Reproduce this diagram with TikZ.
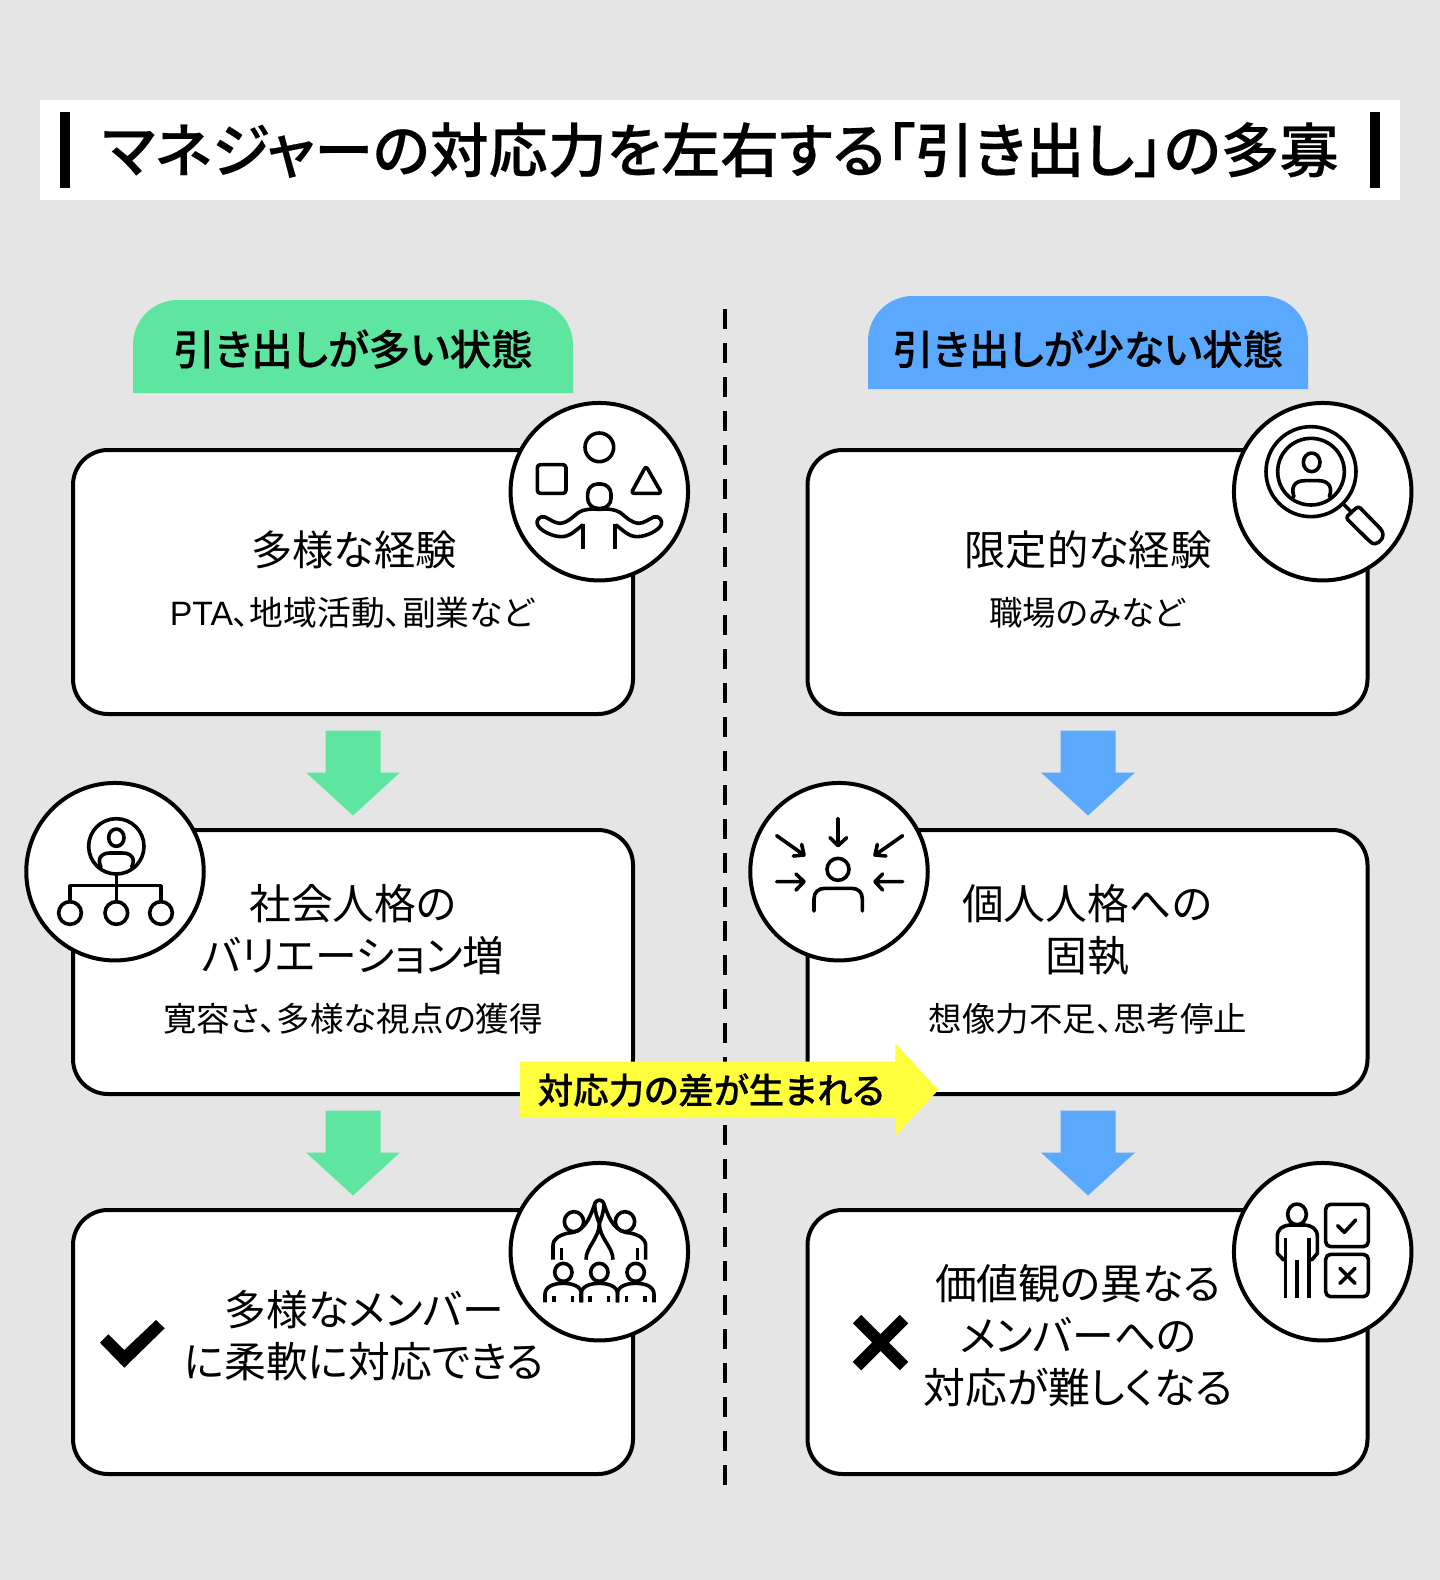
\documentclass[tikz,border=0pt]{standalone}
\usepackage{fontspec}
\setmainfont{Noto Sans CJK JP}[RawFeature=+palt]
\newfontfamily\medfont{Noto Sans CJK JP Medium}[RawFeature=+palt,FakeBold=0.35]
\newfontfamily\latinfont{Liberation Sans}
\definecolor{bggrey}{HTML}{E5E5E5}
\definecolor{mygreen}{HTML}{5EE6A1}
\definecolor{myblue}{HTML}{5AA9FF}
\definecolor{myyellow}{HTML}{FFFF3D}
\tikzset{
  card/.style={draw=black,fill=white,line width=4pt,rounded corners=35pt,minimum width=560pt,minimum height=264pt,inner sep=0pt},
  badge/.style={circle,draw=black,fill=white,line width=4pt,minimum size=177.5pt,inner sep=0pt},
  maintext/.style={align=center,inner sep=0pt,font=\fontsize{41.8}{52}\selectfont},
  onetext/.style={align=center,inner sep=0pt,font=\fontsize{41.3}{52}\selectfont},
  subtext/.style={align=center,inner sep=0pt,font=\fontsize{33.5}{40}\selectfont},
  tabtext/.style={inner sep=0pt},
  ink/.style={line width=3.6pt,line cap=round,line join=round},
  butt/.style={line cap=butt},
  icon/.style={x=.33333pt,y=-.33333pt,ink},
}
\begin{document}
\begin{tikzpicture}[x=1pt,y=-1pt]
\useasboundingbox (0,0) rectangle (1440,1580);
\fill[bggrey] (0,0) rectangle (1440,1580);
% title
\fill[white] (40,100) rectangle (1400,200);
\fill[black] (60,112) rectangle (70,188);
\fill[black] (1370,112) rectangle (1380,188);
\node[inner sep=0pt,font=\fontsize{59}{64}\selectfont\medfont] (title) at (720.5,150) {マネジャーの対応力を左右する「引き出し」の多寡};
% tabs
\fill[mygreen] (133,393) -- (133,345) .. controls (133,320) and (153,300) .. (178,300) -- (528,300) .. controls (553,300) and (573,320) .. (573,345) -- (573,393) -- cycle;
\fill[myblue] (868,389) -- (868,341) .. controls (868,316) and (888,296) .. (913,296) -- (1263,296) .. controls (1288,296) and (1308,316) .. (1308,341) -- (1308,389) -- cycle;
\node[tabtext,font=\fontsize{41.6}{48}\selectfont\medfont] (tabL) at (353,349) {引き出しが多い状態};
\node[tabtext,font=\fontsize{40.6}{48}\selectfont\medfont] (tabR) at (1088,349) {引き出しが少ない状態};
% divider
\draw[black,line width=4pt,dash pattern=on 20pt off 14pt] (725,309) -- (725,1486);
% cards
\node[card] (L1) at (353,582) {};
\node[card] (L2) at (353,962) {};
\node[card] (L3) at (353,1342) {};
\node[card] (R1) at (1087.5,582) {};
\node[card] (R2) at (1087.5,962) {};
\node[card] (R3) at (1087.5,1342) {};
% block arrows
\foreach \cx/\cy/\col in {353/730.5/mygreen,353/1110.5/mygreen,1088/730.5/myblue,1088/1110.5/myblue}{
  \fill[\col] (\cx-27.5,\cy) -- (\cx+27.5,\cy) -- (\cx+27.5,\cy+42) -- (\cx+47,\cy+42) -- (\cx,\cy+85) -- (\cx-47,\cy+42) -- (\cx-27.5,\cy+42) -- cycle;
}
% card text
\node[onetext] (t1) at (354,550) {多様な経験};
\node[subtext,font=\fontsize{33.8}{40}\selectfont] (s1) at (352,613) {{\latinfont PTA}、地域活動、副業など};
\node[maintext] (t2) at (353,930) {社会人格の\\バリエーション増};
\node[subtext] (s2) at (353,1019) {寛容さ、多様な視点の獲得};
\node[maintext] (t3) at (364,1336) {多様なメンバー\\に柔軟に対応できる};
\node[onetext] (t4) at (1088,550) {限定的な経験};
\node[subtext] (s4) at (1087,613) {職場のみなど};
\node[maintext] (t5) at (1087,930) {個人人格への\\固執};
\node[subtext] (s5) at (1088,1019) {想像力不足、思考停止};
\node[maintext] (t6) at (1078,1335.5) {価値観の異なる\\メンバーへの\\対応が難しくなる};
% marks
\fill[black] (100,1342.7) -- (108.3,1334.3) -- (124.3,1350) -- (156,1320) -- (164.7,1328.3) -- (124.3,1367.7) -- cycle;
\draw[black,line width=12pt] (857,1319) -- (904,1366) (904,1319) -- (857,1366);
% badges
\node[badge] (b1) at (599.3,491.7) {};
\node[badge] (b2) at (115,871.7) {};
\node[badge] (b3) at (599.3,1251.7) {};
\node[badge] (b4) at (1322.7,491.7) {};
\node[badge] (b5) at (839,871.7) {};
\node[badge] (b6) at (1322.7,1251.7) {};
% icon 1
\begin{scope}[shift={(500,390)},icon]
\draw (298,172) circle (43);
\draw[rounded corners=3pt] (112,224) rectangle (198,310);
\draw[rounded corners=3pt] (438,228) -- (393,310) -- (485,310) -- cycle;
\draw[rounded corners=10pt] (263,282) rectangle (333,355);
\draw (248,405) .. controls (228,420) and (210,440) .. (185,440) .. controls (155,440) and (118,420) .. (112,403) .. controls (108,392) and (118,376) .. (135,381) .. controls (150,388) and (165,400) .. (180,400) .. controls (205,397) and (215,383) .. (235,368) .. controls (250,358) and (270,356) .. (298,358) .. controls (326,356) and (346,358) .. (361,368) .. controls (381,383) and (391,397) .. (416,400) .. controls (431,400) and (446,388) .. (461,381) .. controls (478,376) and (488,392) .. (484,403) .. controls (478,420) and (441,440) .. (411,440) .. controls (386,440) and (368,420) .. (348,405);
\draw[butt] (249,403) -- (249,478) (345,403) -- (345,478);
\end{scope}
% icon 2
\begin{scope}[shift={(20,775)},icon]
\draw (289,214) circle (83);
\draw (289,188) ellipse [x radius=23,y radius=26];
\draw (243,276) .. controls (230,250) and (245,234) .. (270,234) -- (308,234) .. controls (333,234) and (348,250) .. (335,276);
\draw (289,297) -- (289,380);
\draw (150,380) -- (150,332) -- (423,332) -- (423,380);
\draw (150,414) circle (34);
\draw (289,414) circle (34);
\draw (423,414) circle (34);
\end{scope}
% icon 3
\begin{scope}[shift={(500,1155)},icon]
\draw (222,200) ellipse [x radius=29,y radius=30];
\draw (375,200) ellipse [x radius=29,y radius=30];
\draw[butt] (159,314) -- (159,272) .. controls (159,250) and (180,240) .. (205,234) .. controls (250,232) and (268,195) .. (283,150) .. controls (288,130) and (308,130) .. (313,150) .. controls (328,195) and (346,232) .. (391,234) .. controls (416,240) and (437,250) .. (437,272) -- (437,314);
\draw[butt] (258,314) .. controls (258,275) and (298,250) .. (298,205) .. controls (298,250) and (339,275) .. (339,314);
\draw (284,150) .. controls (286,175) and (292,190) .. (298,205) .. controls (304,190) and (310,175) .. (312,150);
\draw[butt] (184,278) -- (184,314) (412,278) -- (412,314);
\foreach \hx in {190,298,407}{
  \draw (\hx,352) ellipse [x radius=26,y radius=27];
  \draw[butt] (\hx-55,442) -- (\hx-55,418) .. controls (\hx-55,395) and (\hx-30,385) .. (\hx,385) .. controls (\hx+30,385) and (\hx+55,395) .. (\hx+55,418) -- (\hx+55,442);
  \draw[butt] (\hx-28,424) -- (\hx-28,442) (\hx+28,424) -- (\hx+28,442);
}
\end{scope}
% icon 4
\begin{scope}[shift={(1225,395)},icon]
\draw (258,230) circle (135);
\draw (258,230) circle (100);
\draw (260,202) ellipse [x radius=25,y radius=28];
\draw (207,305) .. controls (198,280) and (205,257) .. (240,257) -- (280,257) .. controls (315,257) and (322,280) .. (313,305);
\draw (358,330) -- (380,352);
\draw[rounded corners=3pt] (400,333) -- (473,408) .. controls (475,440) and (450,450) .. (435,440) -- (362,368) -- cycle;
\end{scope}
% icon 5
\begin{scope}[shift={(740,775)},icon]
\draw (294,130) -- (294,212) (270,188) -- (294,212) -- (320,188);
\draw (110,182) -- (192,240) (185,208) -- (192,240) -- (160,243);
\draw (488,182) -- (405,240) (412,208) -- (405,240) -- (438,243);
\draw (110,320) -- (192,320) (168,297) -- (192,320) -- (168,345);
\draw (488,320) -- (405,320) (428,297) -- (405,320) -- (428,345);
\draw (294,283) circle (33);
\draw (222,408) -- (222,372) .. controls (222,352) and (235,340) .. (255,340) -- (335,340) .. controls (355,340) and (367,352) .. (367,372) -- (367,408);
\end{scope}
% icon 6
\begin{scope}[shift={(1225,1155)},icon]
\draw (216,178) ellipse [x radius=28,y radius=31];
\draw (157,295) -- (157,245) .. controls (157,222) and (172,212) .. (195,210) -- (238,210) .. controls (262,212) and (277,222) .. (277,245) -- (277,295) -- (260,315) (157,295) -- (176,315);
\draw[butt] (181,250) -- (181,430) (252,250) -- (252,430) (216,315) -- (216,430);
\draw[rounded corners=5pt] (302,148) rectangle (430,275);
\draw[rounded corners=5pt] (302,298) rectangle (430,425);
\draw (338,212) -- (358,232) -- (392,195);
\draw (345,340) -- (390,385) (390,340) -- (345,385);
\end{scope}
% yellow arrow
\fill[myyellow] (520,1061.7) -- (895.3,1061.7) -- (895.3,1043.3) -- (938.3,1090) -- (895.3,1136) -- (895.3,1117.3) -- (520,1117.3) -- cycle;
\node[inner sep=0pt,font=\fontsize{35.5}{40}\selectfont\medfont] (gap) at (711,1090) {対応力の差が生まれる};
\end{tikzpicture}
\end{document}
